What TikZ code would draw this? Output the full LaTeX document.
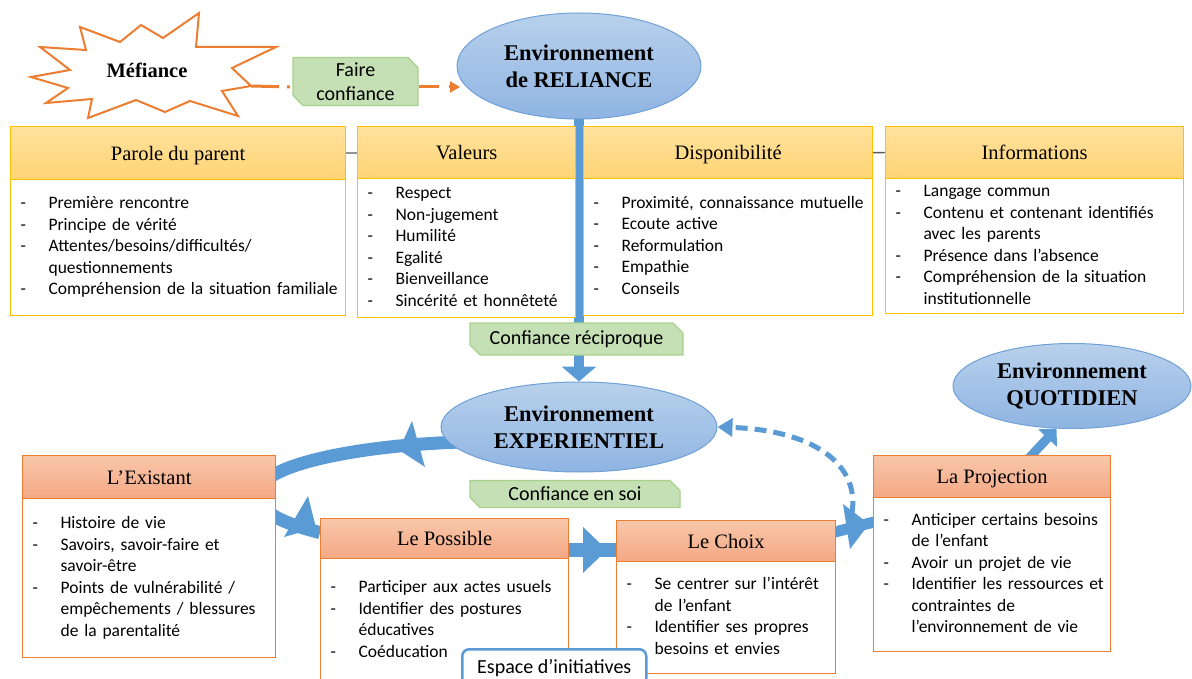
\documentclass[tikz,border=0pt]{standalone}
\usepackage{fontspec}
\setmainfont{Liberation Serif}
\newfontfamily\calfont{Carlito}
\usetikzlibrary{shapes.geometric,shapes.misc,arrows.meta,shadings}
\pgfdeclarelayer{bg}
\pgfsetlayers{bg,main}
\definecolor{yborder}{HTML}{FFC000}
\definecolor{ytop}{HTML}{FFE29E}
\definecolor{ybot}{HTML}{FFD474}
\definecolor{oborder}{HTML}{ED7D31}
\definecolor{otop}{HTML}{F8C7A9}
\definecolor{obot}{HTML}{F4A885}
\definecolor{eborder}{HTML}{6FA0D6}
\definecolor{etop}{HTML}{B8D1EC}
\definecolor{ebot}{HTML}{8FB4E2}
\definecolor{bluec}{HTML}{5B9BD5}
\definecolor{gfill}{HTML}{C5E0B4}
\definecolor{gborder}{HTML}{A9D18E}
\definecolor{linegray}{HTML}{595959}
\newcommand\dashitem{\makebox[28pt][l]{-}}
\newcommand\contitem{\hspace*{28pt}}
\tikzset{
  yhead/.style={draw=yborder, line width=1.2pt, top color=ytop, bottom color=ybot, anchor=north west, inner sep=0pt, text height=14pt, text depth=0pt, font=\fontsize{20.5}{24}\selectfont},
  ohead/.style={draw=oborder, line width=1.2pt, top color=otop, bottom color=obot, anchor=north west, inner sep=0pt, text height=14pt, text depth=0pt, font=\fontsize{20.5}{24}\selectfont},
  ybody/.style={draw=yborder, line width=1.2pt, fill=white, anchor=north west, inner xsep=10pt, inner ysep=0pt, align=left, font=\calfont\fontsize{17.5}{21.5}\selectfont},
  obody/.style={draw=oborder, line width=1.2pt, fill=white, anchor=north west, inner xsep=10pt, inner ysep=0pt, align=left, font=\calfont\fontsize{17.5}{21.5}\selectfont},
  envell/.style={ellipse, draw=eborder, line width=1pt, top color=etop, bottom color=ebot, align=center, inner sep=0pt, font=\bfseries\fontsize{22.5}{27}\selectfont},
  glabel/.style={chamfered rectangle, chamfered rectangle corners={north east,south west}, chamfered rectangle xsep=5pt, chamfered rectangle ysep=5pt, draw=gborder, line width=1.2pt, fill=gfill, inner sep=0pt, align=center, font=\calfont\fontsize{20}{24}\selectfont},
  bband/.style={draw=bluec},
  odash/.style={draw=oborder, line width=3pt},
}
\begin{document}
\begin{tikzpicture}[x=1pt,y=-1pt]
\useasboundingbox (0,0) rectangle (1192,679);

% ---- starburst
\draw[oborder, line width=2pt, fill=white, line join=miter]
 (31,77) -- (70,70) -- (40,47) -- (86,50) -- (80,27) -- (120,42) -- (141,25) -- (163,38)
 -- (199,13) -- (196,47) -- (276,47) -- (232,68) -- (251,86) -- (222,91) -- (238,116)
 -- (190,101) -- (165,112) -- (136,100) -- (88,118) -- (92,99) -- (46,103) -- (68,88) -- cycle;
\node[font=\bfseries\fontsize{20.5}{24}\selectfont] (mef) at (147,70) {Méfiance};
\coordinate (mefspike) at (251,86);

% ---- ellipses
\node[envell, minimum width=244pt, minimum height=106pt] (rel) at (579,66) {Environnement\\de RELIANCE};
\node[envell, minimum width=276pt, minimum height=90pt] (exp) at (579,427) {Environnement\\EXPERIENTIEL};
\node[envell, minimum width=238pt, minimum height=85pt] (quot) at (1072,386) {Environnement\\QUOTIDIEN};

% ---- green labels
\node[glabel, minimum width=125pt, minimum height=47pt] (faire) at (355.5,81.5) {Faire\\confiance};
\node[glabel, minimum width=213pt, minimum height=32pt] (recip) at (576.5,339) {Confiance réciproque};
\node[glabel, minimum width=210pt, minimum height=27pt] (soi) at (575,494) {Confiance en soi};

% ---- top row
\node[yhead, minimum width=335pt, minimum height=53pt] (h1) at (10,126) {Parole du parent};
\node[ybody, minimum width=335pt, minimum height=136pt, text width=315pt] (b1) at (10,179)
 {\begin{tabular}{@{}l@{}}\dashitem Première rencontre\\ \dashitem Principe de vérité\\ \dashitem Attentes/besoins/difficultés/\\ \contitem questionnements\\ \dashitem Compréhension de la situation familiale\end{tabular}};

\node[yhead, minimum width=218pt, minimum height=52pt] (h2) at (357,126) {Valeurs};
\node[ybody, minimum width=218pt, minimum height=139pt, text width=198pt] (b2) at (357,178)
 {\begin{tabular}{@{}l@{}}\dashitem Respect\\ \dashitem Non-jugement\\ \dashitem Humilité\\ \dashitem Egalité\\ \dashitem Bienveillance\\ \dashitem Sincérité et honnêteté\end{tabular}};

\node[yhead, minimum width=289pt, minimum height=52pt] (h3) at (583,126) {Disponibilité};
\node[ybody, minimum width=289pt, minimum height=137pt, text width=269pt] (b3) at (583,178)
 {\begin{tabular}{@{}l@{}}\dashitem Proximité, connaissance mutuelle\\ \dashitem Ecoute active\\ \dashitem Reformulation\\ \dashitem Empathie\\ \dashitem Conseils\end{tabular}};

\node[yhead, minimum width=298pt, minimum height=52pt] (h4) at (885,126) {Informations};
\node[ybody, minimum width=298pt, minimum height=135pt, text width=278pt] (b4) at (885,178)
 {\begin{tabular}{@{}l@{}}\dashitem Langage commun\\ \dashitem Contenu et contenant identifiés\\ \contitem avec les parents\\ \dashitem Présence dans l’absence\\ \dashitem Compréhension de la situation\\ \contitem institutionnelle\end{tabular}};

% ---- bottom row
\node[ohead, minimum width=253pt, minimum height=43pt] (h5) at (22,455) {L’Existant};
\node[obody, minimum width=253pt, minimum height=159pt, text width=233pt] (b5) at (22,498)
 {\begin{tabular}{@{}l@{}}\dashitem Histoire de vie\\ \dashitem Savoirs, savoir-faire et\\ \contitem savoir-être\\ \dashitem Points de vulnérabilité /\\ \contitem empêchements / blessures\\ \contitem de la parentalité\end{tabular}};

\node[ohead, minimum width=248pt, minimum height=40pt] (h6) at (320,518) {Le Possible};
\node[obody, minimum width=248pt, minimum height=124pt, text width=228pt] (b6) at (320,558)
 {\begin{tabular}{@{}l@{}}\dashitem Participer aux actes usuels\\ \dashitem Identifier des postures\\ \contitem éducatives\\ \dashitem Coéducation\end{tabular}};

\node[ohead, minimum width=219pt, minimum height=41pt] (h7) at (616,520) {Le Choix};
\node[obody, minimum width=219pt, minimum height=112pt, text width=199pt] (b7) at (616,561)
 {\begin{tabular}{@{}l@{}}\dashitem Se centrer sur l’intérêt\\ \contitem de l’enfant\\ \dashitem Identifier ses propres\\ \contitem besoins et envies\end{tabular}};

\node[ohead, minimum width=237pt, minimum height=42pt] (h8) at (873,455) {La Projection};
\node[obody, minimum width=237pt, minimum height=154pt, text width=217pt] (b8) at (873,497)
 {\begin{tabular}{@{}l@{}}\dashitem Anticiper certains besoins\\ \contitem de l’enfant\\ \dashitem Avoir un projet de vie\\ \dashitem Identifier les ressources et\\ \contitem contraintes de\\ \contitem l’environnement de vie\end{tabular}};

\node[draw=bluec, line width=2.5pt, rounded corners=7pt, fill=white, anchor=north west, minimum width=184pt, minimum height=38pt, inner sep=0pt, font=\calfont\fontsize{20}{24}\selectfont] (esp) at (461,648) {Espace d’initiatives};

% ---- connectors (background)
\coordinate (choixout) at (835,532);
\coordinate (projin) at (874,522);
\coordinate (possout) at (567,550);
\coordinate (choixin) at (617,550);
\coordinate (dstart) at (852,513);
\coordinate (qstart) at (1029,458);
\begin{pgfonlayer}{bg}
  \draw[linegray, line width=1.3pt] (h1.east) -- (h4.west);
  \draw[odash, dash pattern=on 28pt off 8pt on 3pt off 8pt] (mefspike) -- ([yshift=-5.5pt]faire.west);
  \draw[odash, dash pattern=on 20pt off 10pt, -{Triangle[length=10pt,width=11pt]}] ([yshift=-5.5pt]faire.east) -- (460,87);
  \draw[bband, line width=10pt, -{Triangle[length=15pt,width=34pt]}] (rel.south) -- (exp.north);
  \draw[bband, line width=13pt] ([xshift=22pt,yshift=-15pt]exp.west) .. controls (360,445) and (255,465) .. (258,495)
     .. controls (260,515) and (290,525) .. ([yshift=6pt]h6.west);
  \fill[bluec] (399,450) -- (412,421) -- (425,467) -- cycle;
  \fill[bluec] (308,496) -- (284,537) -- (316,528) -- cycle;
  \draw[bband, line width=14pt] (possout) -- (choixin);
  \fill[bluec] (583,527) -- (583,573) -- (607,550) -- cycle;
  \draw[bband, line width=11pt] (choixout) -- (projin);
  \fill[bluec] (843,504) -- (850,549) -- (869,524) -- cycle;
  \draw[bband, line width=5pt, dash pattern=on 12pt off 7pt, -{Triangle[length=15pt,width=18pt]}] (dstart) .. controls (860,462) and (810,430) .. (exp.east);
  \draw[bband, line width=9pt, -{Triangle[length=13pt,width=25pt]}] (qstart) -- (quot.250);
\end{pgfonlayer}
\end{tikzpicture}
\end{document}
